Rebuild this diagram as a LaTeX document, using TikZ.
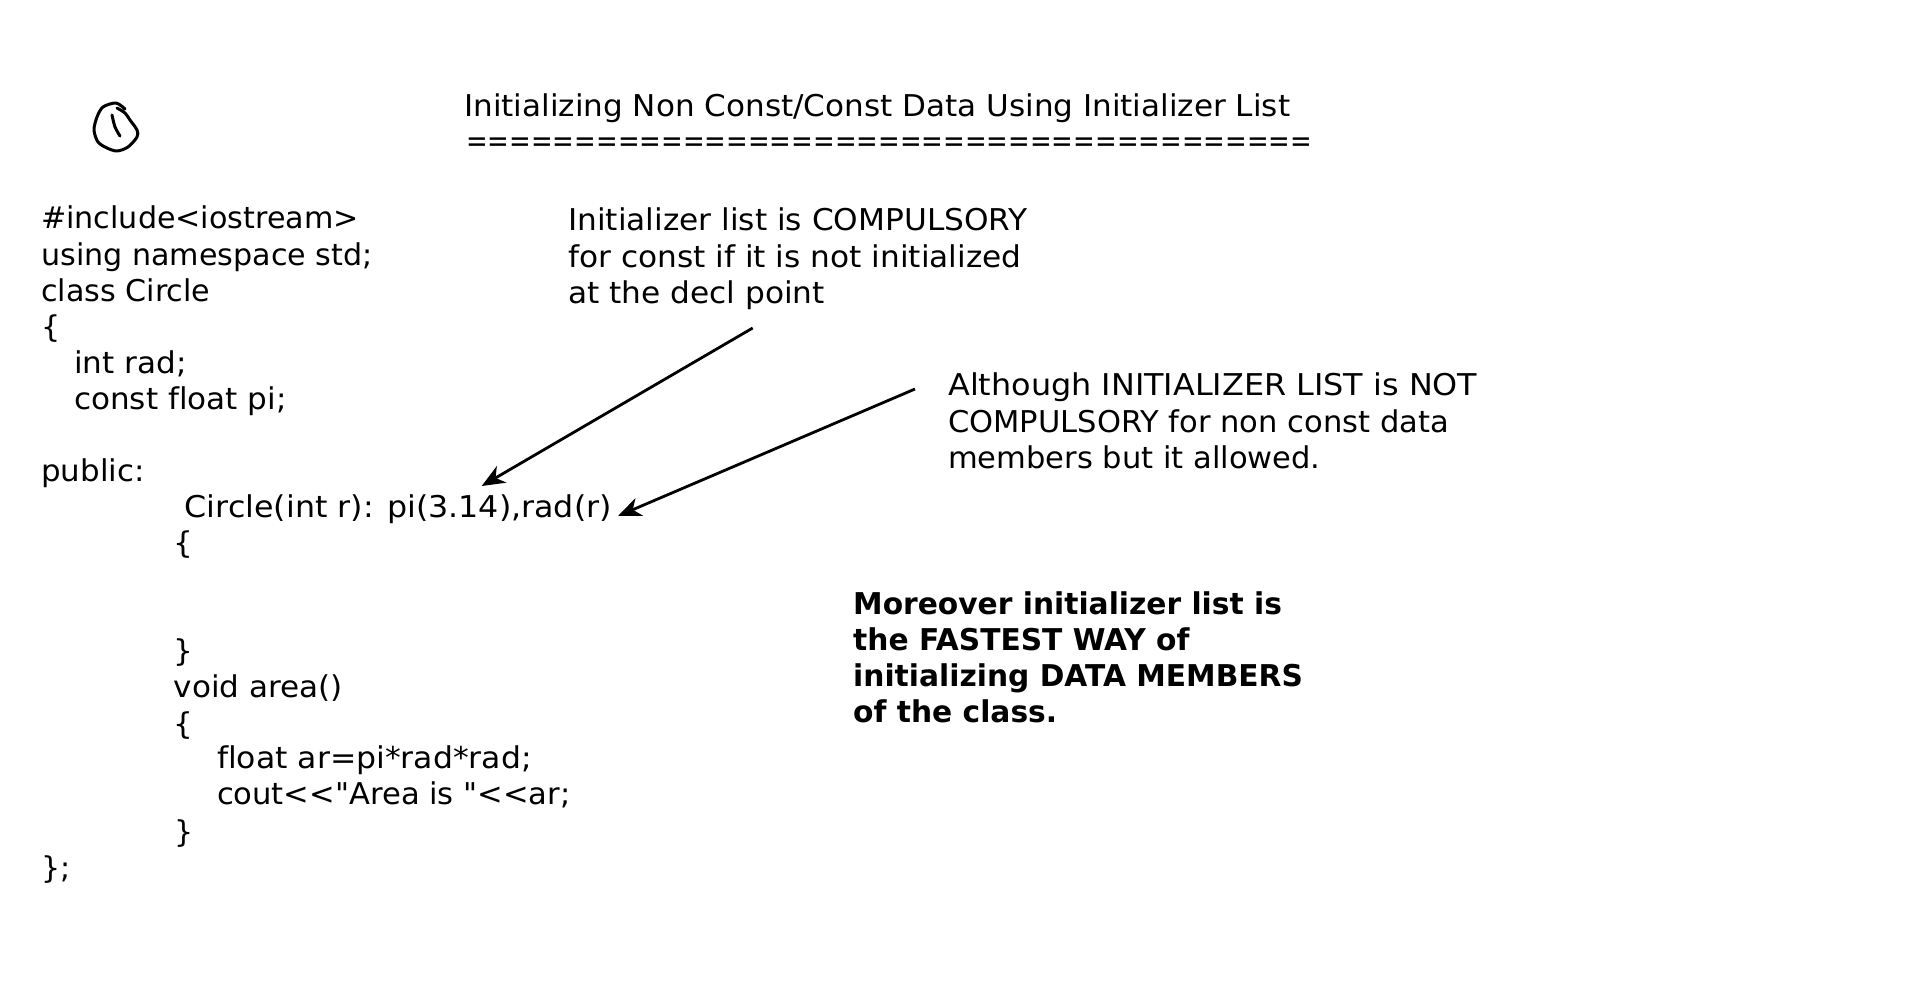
\documentclass[tikz,border=0pt]{standalone}
\usepackage{fontspec}
\setmainfont{DejaVu Sans}[Ligatures={TeXOff,NoCommon}]
\usetikzlibrary{arrows.meta}
\tikzset{
	txt/.style={inner sep=0pt,anchor=north west,align=left,font=\fontsize{30}{36.2}\selectfont},
	boldtxt/.style={txt,font=\fontsize{30}{36.2}\selectfont\bfseries},
	wide/.style={xscale=#1,transform shape},
	pointer/.style={line width=2.8pt,-{Stealth[length=23pt,width=19pt,inset=7pt]}},
	pen/.style={line width=3pt,line cap=round,line join=round}
}
\begin{document}
\begin{tikzpicture}[x=1pt,y=-1pt]
	\useasboundingbox (0,0) rectangle (1920,991);
	% clock sketch
	\draw[pen,smooth] plot coordinates {(125,109) (116,103) (103,107) (97,117) (94,130) (98,142) (107,148) (117,151) (128,147) (137,137) (137,130) (130,120) (125,113) (117,108)};
	\draw[pen,smooth] plot coordinates {(112,115) (115,127) (120,136)};
	% title
	\node[txt,wide=1.035] (title) at (464,94) {Initializing Non Const/Const Data Using Initializer List};
	\node[txt,wide=.863] (rule) at (466,138) {=======================================};
	% code
	\node[txt,wide=1.005] (head) at (41,206) {\#include<iostream>\\using namespace std;\\class Circle\\\{};
	\node[txt,wide=1.035] (members) at (74,350.5) {int rad;\\const float pi;};
	\node[txt,wide=1.03] (public) at (41,459) {public:};
	\node[txt,wide=1.057] (ctor) at (184.6,494) {Circle(int r): pi(3.14),rad(r)};
	\node[txt,wide=1.035] (ctorbody) at (173.5,530) {\{\\[72.4pt]\}\\void area()\\\{};
	\node[txt,wide=1.05] (areaone) at (216.8,745.5) {float ar=pi*rad*rad;};
	\node[txt,wide=1.02] (areatwo) at (216.8,781.7) {cout<{}<"Area is "<{}<ar;};
	\node[txt] (areaend) at (174,819) {\}};
	\node[txt] (classend) at (41,855) {\};};
	% notes
	\node[txt,wide=1.04] (compulsory) at (568,208) {Initializer list is COMPULSORY\\for const if it is not initialized\\at the decl point};
	\node[txt,wide=1.062] (allowedtop) at (948,373) {Although INITIALIZER LIST is NOT};
	\node[txt,wide=1.018] (allowed) at (948,409.2) {COMPULSORY for non const data\\members but it allowed.};
	\node[boldtxt,wide=.99] (fastest) at (853,591) {Moreover initializer list is\\the FASTEST WAY of\\initializing DATA MEMBERS\\of the class.};
	% arrows
	\coordinate (compulsoryfoot) at (752.7,328);
	\coordinate (ctorpi) at (481.7,486);
	\coordinate (allowedfoot) at (915,389);
	\coordinate (ctorend) at (618,516);
	\draw[pointer] (compulsoryfoot) -- (ctorpi);
	\draw[pointer] (allowedfoot) -- (ctorend);
\end{tikzpicture}
\end{document}
